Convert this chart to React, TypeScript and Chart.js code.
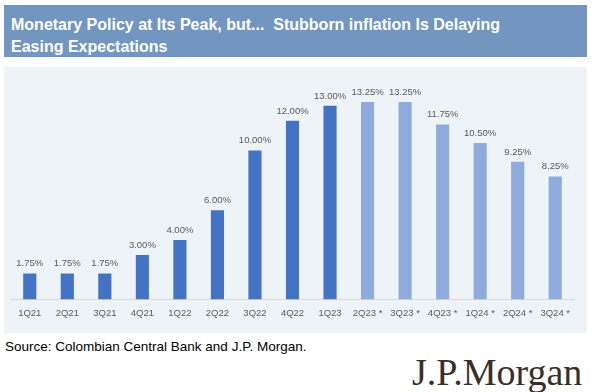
import React, { useEffect, useRef } from "react";
import { Chart, registerables } from "chart.js";

Chart.register(...registerables);

const categories = ["1Q21", "2Q21", "3Q21", "4Q21", "1Q22", "2Q22", "3Q22", "4Q22", "1Q23", "2Q23 *", "3Q23 *", "4Q23 *", "1Q24 *", "2Q24 *", "3Q24 *"];
const policyRate = [1.75, 1.75, 1.75, 3.0, 4.0, 6.0, 10.0, 12.0, 13.0, 13.25, 13.25, 11.75, 10.5, 9.25, 8.25];
const isForecast = [false, false, false, false, false, false, false, false, false, true, true, true, true, true, true];
const valueLabels = ["1.75%", "1.75%", "1.75%", "3.00%", "4.00%", "6.00%", "10.00%", "12.00%", "13.00%", "13.25%", "13.25%", "11.75%", "10.50%", "9.25%", "8.25%"];

const ACTUAL = "#4472C4";
const FORECAST = "#8FAADC";

const labelPlugin = {
  id: "valueLabels",
  afterDatasetsDraw(chart: any) {
    const ctx = chart.ctx;
    const meta = chart.getDatasetMeta(0);
    ctx.save();
    ctx.font = "9.5px 'Liberation Sans', Arial, sans-serif";
    ctx.fillStyle = "#595959";
    ctx.textAlign = "center";
    ctx.textBaseline = "bottom";
    meta.data.forEach((bar: any, i: number) => {
      ctx.fillText(valueLabels[i], bar.x, bar.y - 5);
    });
    ctx.restore();
  },
};

export default function App() {
  const ref = useRef<HTMLCanvasElement>(null);
  useEffect(() => {
    if (!ref.current) return;
    const chart = new Chart(ref.current, {
      type: "bar",
      data: {
        labels: categories,
        datasets: [
          {
            data: policyRate,
            backgroundColor: isForecast.map((f) => (f ? FORECAST : ACTUAL)),
            barPercentage: 0.35,
            categoryPercentage: 1,
          },
        ],
      },
      options: {
        animation: false,
        responsive: false,
        maintainAspectRatio: false,
        layout: { padding: { top: 9, left: 7, right: 13, bottom: 6 } },
        plugins: { legend: { display: false }, tooltip: { enabled: false } },
        scales: {
          y: { display: false, min: 0, max: 15 },
          x: {
            grid: { display: false, drawTicks: false },
            border: { display: true, color: "#D9D9D9", width: 1 },
            ticks: {
              color: "#595959",
              padding: 8,
              font: { family: "'Liberation Sans', Arial, sans-serif", size: 9.5 },
              maxRotation: 0,
              autoSkip: false,
            },
          },
        },
      },
      plugins: [labelPlugin],
    });
    return () => chart.destroy();
  }, []);

  return (
    <div style={{ position: "fixed", left: 0, top: 0, width: 595, height: 392, background: "#fff", overflow: "hidden", fontFamily: "'Liberation Sans', Arial, sans-serif" }}>
      <div style={{ position: "absolute", left: 4, top: 5, width: 583, height: 52, background: "#7296BF", overflow: "hidden" }}>
        <div style={{ position: "absolute", left: 7, top: 9, color: "#fff", fontWeight: "bold", fontSize: 16, lineHeight: "22px", whiteSpace: "nowrap" }}>
          Monetary Policy at Its Peak, but...&nbsp; Stubborn inflation Is Delaying
          <br />
          Easing Expectations
        </div>
      </div>
      <div style={{ position: "absolute", left: 4, top: 67, width: 583, height: 266, background: "#EEF3F8" }}>
        <canvas ref={ref} width={583} height={266} style={{ display: "block", width: 583, height: 266 }} />
      </div>
      <div style={{ position: "absolute", left: 5, top: 339, fontSize: 13.5, color: "#000", whiteSpace: "nowrap" }}>
        Source: Colombian Central Bank and J.P. Morgan.
      </div>
      <div style={{ position: "absolute", left: 412, top: 352, fontFamily: "'Liberation Serif', 'DejaVu Serif', serif", fontSize: 38, color: "#3A2E29", whiteSpace: "nowrap", lineHeight: "40px" }}>
        J.P.Morgan
      </div>
    </div>
  );
}
